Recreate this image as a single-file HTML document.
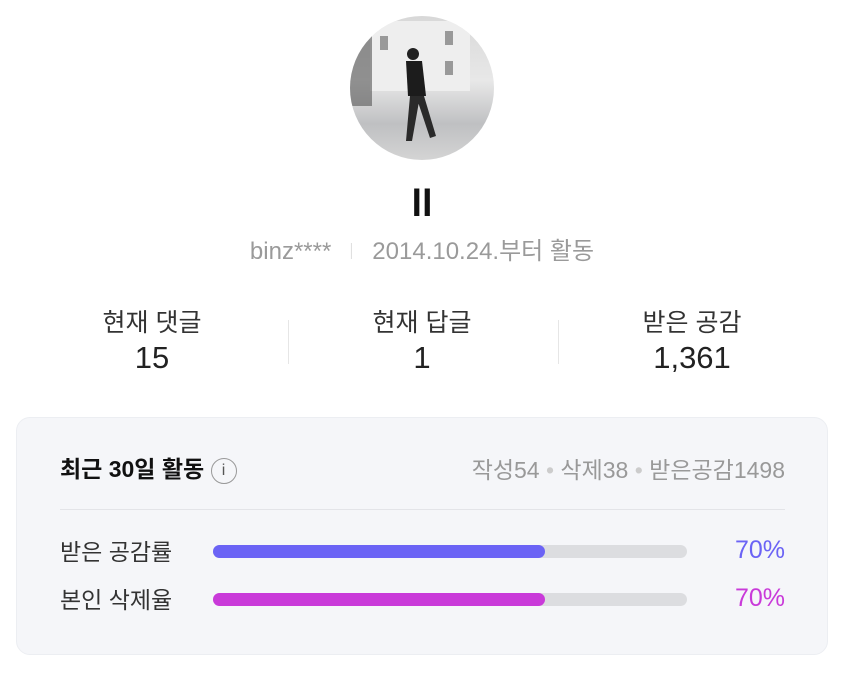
<!DOCTYPE html>
<html><head><meta charset="utf-8">
<style>
body{margin:0;width:850px;height:690px;background:#fff;font-family:"Liberation Sans","Noto Sans CJK KR",sans-serif;position:relative;overflow:hidden}
.a{position:absolute}
.c{text-align:center;transform:translateX(-50%);white-space:nowrap}
</style></head><body>
<div class="a" style="left:350px;top:16px;width:144px;height:144px;border-radius:50%;overflow:hidden;background:linear-gradient(180deg,#d8d8d8 0%,#e8e8e8 45%,#bfc0c2 75%,#d4d4d4 100%)">
<svg width="144" height="144">
<rect x="20" y="5" width="100" height="70" fill="#eeeeee"/>
<rect x="30" y="20" width="8" height="14" fill="#999"/><rect x="95" y="15" width="8" height="14" fill="#999"/><rect x="95" y="45" width="8" height="14" fill="#999"/>
<rect x="0" y="20" width="22" height="70" fill="#555" opacity=".6"/>
<circle cx="63" cy="38" r="6" fill="#222"/>
<path d="M56 45 L72 45 L76 80 L58 80 Z" fill="#1c1c1c"/>
<path d="M60 80 L70 80 L62 125 L56 125 Z M66 80 L74 80 L86 120 L80 122 Z" fill="#2a2a2a"/>
</svg></div>
<div class="a c" style="left:422px;top:183px;font-size:38px;font-weight:bold;color:#111">ll</div>
<div class="a c" style="left:422px;top:231px;font-size:24px;color:#9a9a9a">binz****<span style="display:inline-block;width:1px;height:16px;background:#ddd;margin:0 20px"></span>2014.10.24.부터 활동</div>

<div class="a c" style="left:152px;top:303px;font-size:25px;color:#333">현재 댓글</div>
<div class="a c" style="left:152px;top:340px;font-size:31px;color:#222">15</div>
<div class="a c" style="left:422px;top:303px;font-size:25px;color:#333">현재 답글</div>
<div class="a c" style="left:422px;top:340px;font-size:31px;color:#222">1</div>
<div class="a c" style="left:692px;top:303px;font-size:25px;color:#333">받은 공감</div>
<div class="a c" style="left:692px;top:340px;font-size:31px;color:#222">1,361</div>
<div class="a" style="left:288px;top:320px;width:1px;height:44px;background:#e6e6e6"></div>
<div class="a" style="left:558px;top:320px;width:1px;height:44px;background:#e6e6e6"></div>

<div class="a" style="left:16px;top:417px;width:810px;height:236px;background:#f5f6f9;border:1px solid #eceef2;border-radius:14px"></div>
<div class="a" style="left:60px;top:450px;font-size:23px;font-weight:bold;color:#111">최근 30일 활동 <span style="display:inline-block;width:24px;height:24px;border:1.5px solid #999;border-radius:50%;font-size:16px;font-weight:normal;color:#555;text-align:center;line-height:24px;vertical-align:2px">i</span></div>
<div class="a" style="right:65px;top:451px;font-size:23px;color:#999">작성54 <span style="color:#ccc">•</span> 삭제38 <span style="color:#ccc">•</span> 받은공감1498</div>
<div class="a" style="left:60px;top:509px;width:725px;height:1px;background:#e3e4e8"></div>
<div id="bars"></div>
<script>
const labels=["받은 공감률","본인 삭제율"];
const values=[70,70];
const colors=["#6b63f5","#c93ad9"];
const names=["received-like-rate","self-delete-rate"];
const host=document.getElementById('bars');
const x0=213,w=474,y0=551,dy=48;
function xs(v){return v/100*w;}
labels.forEach((l,i)=>{
 const y=y0+i*dy;
 const lb=document.createElement('div');lb.className='a';
 
 
 lb.style.cssText=`left:60px;top:${y-18}px;font-size:23px;color:#333`;lb.textContent=l;host.appendChild(lb);
 const tr=document.createElement('div');tr.className='a';
 
 
 tr.style.cssText=`left:${x0}px;top:${y-6}px;width:${w}px;height:13px;border-radius:7px;background:#dcdde0`;host.appendChild(tr);
 const f=document.createElement('div');f.className='a';
 
 
 f.style.cssText=`left:${x0}px;top:${y-6}px;width:${xs(values[i])}px;height:13px;border-radius:7px;background:${colors[i]}`;host.appendChild(f);
 const p=document.createElement('div');p.className='a';
 
 
 p.style.cssText=`right:65px;top:${y-15}px;font-size:25px;color:${colors[i]}`;p.textContent=values[i]+'%';host.appendChild(p);
});
</script>
</body></html>
